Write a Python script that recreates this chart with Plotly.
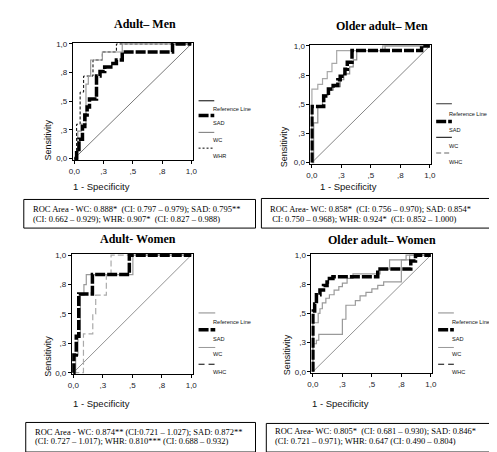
import plotly.graph_objects as go

# --- chart data ---
tick_vals = [0, 0.25, 0.5, 0.75, 1.0]
tick_text = ["0,0", ",3", ",5", ",8", "1,0"]
ref_line = [0, 1]

# Adult - Men
am_sad_fpr = [0, 0.02, 0.04, 0.07, 0.09, 0.11, 0.13, 0.19, 0.22, 0.26, 0.33, 0.36, 0.41, 0.84, 1.0]
am_sad_tpr = [0, 0.08, 0.17, 0.28, 0.38, 0.45, 0.52, 0.72, 0.76, 0.80, 0.83, 0.86, 0.93, 1.0, 1.0]
am_wc_fpr = [0, 0.03, 0.06, 0.10, 0.12, 0.14, 0.24, 0.41, 1.0]
am_wc_tpr = [0, 0.24, 0.30, 0.65, 0.72, 0.86, 0.93, 1.0, 1.0]
am_whr_fpr = [0, 0.02, 0.05, 0.08, 0.16, 0.24, 0.36, 1.0]
am_whr_tpr = [0, 0.30, 0.58, 0.72, 0.86, 0.93, 1.0, 1.0]

# Older adult - Men
om_sad_fpr = [0, 0, 0.10, 0.14, 0.18, 0.22, 0.24, 0.28, 0.30, 0.34, 0.93, 1.0]
om_sad_tpr = [0, 0.48, 0.57, 0.63, 0.66, 0.71, 0.74, 0.80, 0.86, 0.96, 1.0, 1.0]
om_wc_fpr = [0, 0.015, 0.05, 0.09, 0.14, 0.18, 0.24, 0.27, 0.32, 0.35, 0.38, 0.62, 1.0]
om_wc_tpr = [0, 0.34, 0.48, 0.58, 0.62, 0.65, 0.71, 0.76, 0.82, 0.88, 0.96, 1.0, 1.0]
om_whc_fpr = [0, 0, 0.05, 0.09, 0.13, 0.17, 0.21, 0.60, 1.0]
om_whc_tpr = [0, 0.63, 0.67, 0.72, 0.78, 0.85, 0.96, 1.0, 1.0]

# Adult - Women
aw_sad_fpr = [0, 0.005, 0.025, 0.046, 0.162, 0.475, 1.0]
aw_sad_tpr = [0, 0.15, 0.31, 0.67, 0.835, 1.0, 1.0]
aw_wc_fpr = [0, 0.02, 0.04, 0.06, 0.09, 0.11, 0.505, 1.0]
aw_wc_tpr = [0, 0.15, 0.30, 0.66, 0.75, 0.835, 1.0, 1.0]
aw_whc_fpr = [0, 0.086, 0.165, 0.19, 0.28, 0.32, 1.0]
aw_whc_tpr = [0, 0.33, 0.50, 0.66, 0.835, 1.0, 1.0]

# Older adult - Women
ow_sad_fpr = [0, 0, 0.015, 0.03, 0.06, 0.09, 0.12, 0.14, 0.17, 0.55, 0.83, 0.87, 1.0]
ow_sad_tpr = [0, 0.52, 0.58, 0.66, 0.70, 0.74, 0.77, 0.80, 0.815, 0.88, 0.95, 1.0, 1.0]
ow_wc_fpr = [0, 0, 0.045, 0.06, 0.08, 0.11, 0.14, 0.18, 0.22, 0.25, 0.29, 0.34, 0.57, 0.65, 0.79, 1.0]
ow_wc_tpr = [0, 0.42, 0.50, 0.54, 0.59, 0.63, 0.66, 0.70, 0.73, 0.76, 0.80, 0.84, 0.88, 0.96, 1.0, 1.0]
ow_whc_fpr = [0, 0, 0.03, 0.05, 0.25, 0.28, 0.36, 0.40, 0.45, 0.50, 0.55, 0.60, 0.75, 0.82, 1.0]
ow_whc_tpr = [0, 0.24, 0.27, 0.32, 0.45, 0.57, 0.61, 0.65, 0.68, 0.71, 0.74, 0.77, 0.96, 1.0, 1.0]

titles = ["Adult– Men", "Older adult– Men", "Adult- Women", "Older adult– Women"]
legend_labels = [
    ["Reference Line", "SAD", "WC", "WHR"],
    ["Reference Line", "SAD", "WC", "WHC"],
    ["Reference Line", "SAD", "WC", "WHC"],
    ["Reference Line", "SAD", "WC", "WHC"],
]
roc_text = [
    ["ROC Area - WC: 0.888*  (CI: 0.797 – 0.979); SAD: 0.795**",
     "(CI: 0.662 – 0.929); WHR: 0.907*  (CI: 0.827 – 0.988)"],
    ["ROC Area- WC: 0.858*  (CI: 0.756 – 0.970); SAD: 0.854*",
     " CI: 0.750 – 0.968); WHR: 0.924*  (CI: 0.852 – 1.000)"],
    ["ROC Area - WC: 0.874** (CI:0.721 – 1.027); SAD: 0.872**",
     "(CI: 0.727 – 1.017); WHR: 0.810*** (CI: 0.688 – 0.932)"],
    ["ROC Area- WC: 0.805*  (CI: 0.681 – 0.930); SAD: 0.846*",
     "(CI: 0.721 – 0.971); WHR: 0.647 (CI: 0.490 – 0.804)"],
]

W, H = 497, 452


def px(x):
    return x / W


def py(y):
    return 1 - y / H


SAD = dict(color="black", width=3.5, dash="10px,2px")
GRAY = dict(color="#9a9a9a", width=1.2)

panels = [
    dict(box=(62, 184, 32, 151),
         curves=[(am_whr_fpr, am_whr_tpr, dict(color="black", width=1, dash="3px,2px")),
                 (am_wc_fpr, am_wc_tpr, GRAY),
                 (am_sad_fpr, am_sad_tpr, SAD)],
         ref=dict(color="#555", width=0.8),
         leg_styles=[dict(color="black", width=1), SAD, dict(color="#777", width=1),
                     dict(color="black", width=1, dash="2px,2px")],
         leg_x=(190, 206, 203), leg_y=[91, 106, 123, 139], leg_ty=[99, 114, 131, 147],
         title_xy=(135, 13), sens_xy=(37, 131), spec_xy=(60, 178),
         rect=(12, 248, 191, 220), text_x=19, text_y=(201, 211)),
    dict(box=(304, 427, 34, 155),
         curves=[(om_wc_fpr, om_wc_tpr, dict(color="#8a8a8a", width=1.2)),
                 (om_whc_fpr, om_whc_tpr, dict(color="#a8a8a8", width=1.2)),
                 (om_sad_fpr, om_sad_tpr, SAD)],
         ref=dict(color="#666", width=0.8),
         leg_styles=[dict(color="#333", width=1), SAD, dict(color="black", width=1),
                     dict(color="#999", width=1.5, dash="5px,3px")],
         leg_x=(432, 448, 443), leg_y=[94, 112, 128, 144], leg_ty=[104, 121, 137, 153],
         title_xy=(377, 15), sens_xy=(277, 137), spec_xy=(312, 178),
         rect=(254, 495, 190, 220), text_x=261, text_y=(201, 211)),
    dict(box=(61, 184, 246, 368),
         curves=[(aw_whc_fpr, aw_whc_tpr, dict(color="#aaaaaa", width=1.2, dash="6px,3px")),
                 (aw_wc_fpr, aw_wc_tpr, GRAY),
                 (aw_sad_fpr, aw_sad_tpr, SAD)],
         ref=dict(color="#777", width=0.8),
         leg_styles=[dict(color="#888", width=1), SAD, dict(color="#999", width=1),
                     dict(color="black", width=1, dash="6px,4px")],
         leg_x=(190, 207, 203), leg_y=[306, 323, 341, 358], leg_ty=[315, 332, 348, 366],
         title_xy=(128, 231), sens_xy=(37, 350), spec_xy=(60, 398),
         rect=(14, 248, 417, 447), text_x=21, text_y=(427, 436)),
    dict(box=(305, 428, 246, 367),
         curves=[(ow_whc_fpr, ow_whc_tpr, dict(color="#9a9a9a", width=1.2)),
                 (ow_wc_fpr, ow_wc_tpr, GRAY),
                 (ow_sad_fpr, ow_sad_tpr, SAD)],
         ref=dict(color="#777", width=0.8),
         leg_styles=[dict(color="#888", width=1), SAD, dict(color="#999", width=1),
                     dict(color="black", width=1, dash="6px,4px")],
         leg_x=(434, 450, 446), leg_y=[306, 323, 341, 358], leg_ty=[315, 332, 348, 366],
         title_xy=(377, 232), sens_xy=(280, 348), spec_xy=(304, 398),
         rect=(259, 495, 418, 447), text_x=266, text_y=(426, 436)),
]

fig = go.Figure()
shapes, annots = [], []
axis_font = dict(family="Liberation Sans", size=8, color="#1a1a2a")

for i, p in enumerate(panels, start=1):
    xa, ya = f"x{i}", f"y{i}"
    x0, x1, y0, y1 = p["box"]

    fig.add_trace(go.Scatter(x=ref_line, y=ref_line, mode="lines", line=p["ref"],
                             xaxis=xa, yaxis=ya, showlegend=False, hoverinfo="skip"))
    for fx, ty, style in p["curves"]:
        fig.add_trace(go.Scatter(x=fx, y=ty, mode="lines", line=style, line_shape="hv",
                                 xaxis=xa, yaxis=ya, showlegend=False))

    common = dict(range=[-0.012, 1.012], tickvals=tick_vals, ticktext=tick_text,
                  showline=True, mirror=True, linecolor="black", linewidth=1,
                  ticks="outside", ticklen=3, tickcolor="black", showgrid=False,
                  zeroline=False, tickfont=axis_font, fixedrange=True)
    fig.layout[f"xaxis{i}"] = dict(common, domain=[px(x0), px(x1)], anchor=ya)
    fig.layout[f"yaxis{i}"] = dict(common, domain=[py(y1), py(y0)], anchor=xa)

    # titles and axis labels
    tx, ty = p["title_xy"]
    annots.append(dict(text=f"<b>{titles[i-1]}</b>", x=px(tx), y=py(ty), xref="paper",
                       yref="paper", showarrow=False, xanchor="center", yanchor="middle",
                       font=dict(family="Liberation Serif", size=12, color="black")))
    sx, sy = p["sens_xy"]
    annots.append(dict(text="Sensitivity", textangle=-90, x=px(sx), y=py(sy), xref="paper",
                       yref="paper", showarrow=False, xanchor="center", yanchor="middle",
                       font=dict(family="Liberation Sans", size=9, color="#111")))
    cx, cy = p["spec_xy"]
    annots.append(dict(text="1 - Specificity", x=px(cx), y=py(cy), xref="paper",
                       yref="paper", showarrow=False, xanchor="left", yanchor="middle",
                       font=dict(family="Liberation Sans", size=9.5, color="#111")))

    # SPSS-style legend: sample line above the label
    lx0, lx1, ltx = p["leg_x"]
    for lab, style, ly, lty in zip(legend_labels[i-1], p["leg_styles"], p["leg_y"], p["leg_ty"]):
        shapes.append(dict(type="line", xref="paper", yref="paper", x0=px(lx0), x1=px(lx1),
                           y0=py(ly), y1=py(ly), line=style))
        annots.append(dict(text=lab, x=px(ltx), y=py(lty), xref="paper", yref="paper",
                           showarrow=False, xanchor="left", yanchor="middle",
                           font=dict(family="Liberation Sans", size=5.6, color="#111")))

    # ROC area box
    rx0, rx1, ry0, ry1 = p["rect"]
    shapes.append(dict(type="rect", xref="paper", yref="paper", x0=px(rx0), x1=px(rx1),
                       y0=py(ry1), y1=py(ry0), line=dict(color="black", width=1)))
    for line_txt, ly in zip(roc_text[i-1], p["text_y"]):
        annots.append(dict(text=line_txt, x=px(p["text_x"]), y=py(ly), xref="paper",
                           yref="paper", showarrow=False, xanchor="left", yanchor="middle",
                           font=dict(family="Liberation Serif", size=8.5, color="black")))

fig.update_layout(
    width=W, height=H,
    margin=dict(l=0, r=0, t=0, b=0),
    paper_bgcolor="white", plot_bgcolor="white",
    shapes=shapes, annotations=annots,
    showlegend=False,
)

fig.write_html("out.html", config={"displayModeBar": False})
